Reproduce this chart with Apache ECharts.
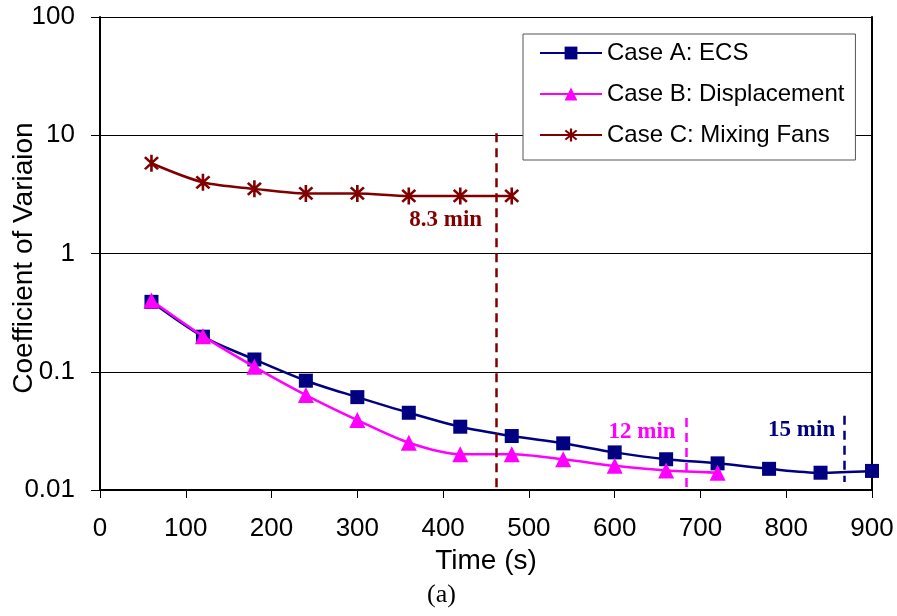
<!DOCTYPE html>
<html>
<head>
<meta charset="utf-8">
<title>Coefficient of Variation</title>
<script src="https://cdn.jsdelivr.net/npm/echarts@6/dist/echarts.min.js"></script>
<style>
  html, body { margin: 0; padding: 0; background: #fff; }
  #chart { width: 897px; height: 616px; }
</style>
</head>
<body>
<div id="chart"></div>
<script>
// time (s) of each sample
var timeA = [60, 120, 180, 240, 300, 360, 420, 480, 540, 600, 660, 720, 780, 840, 900];
var timeB = [60, 120, 180, 240, 300, 360, 420, 480, 540, 600, 660, 720];
var timeC = [60, 120, 180, 240, 300, 360, 420, 480];

// coefficient of variation
var caseA = [0.39, 0.198, 0.127, 0.084, 0.061, 0.045, 0.0343, 0.0286, 0.0248, 0.0208, 0.0182, 0.0168, 0.0151, 0.0140, 0.0145];
var caseB = [0.40, 0.200, 0.110, 0.0635, 0.039, 0.0251, 0.0201, 0.0201, 0.0182, 0.0160, 0.0146, 0.0140];
var caseC = [5.8, 4.0, 3.52, 3.22, 3.22, 3.07, 3.07, 3.07];

var seriesNames = ["Case A: ECS", "Case B: Displacement", "Case C: Mixing Fans"];
var yTicks = [0.01, 0.1, 1, 10, 100];

// dashed markers: time, top, bottom
var cutC = [462, 10.4, 0.0104];
var cutB = [684, 0.0406, 0.01];
var cutA = [868, 0.0425, 0.0117];

function pairs(xs, ys) {
  return xs.map(function (x, i) { return [x, ys[i]]; });
}

// asterisk marker (vertical bar + X)
var starPath = "path://M-0.14,-1L0.14,-1L0.14,1L-0.14,1Z" +
  "M-0.608,-0.806L0.806,0.608L0.608,0.806L-0.806,-0.608Z" +
  "M-0.806,0.608L0.608,-0.806L0.806,-0.608L-0.608,0.806Z";

function cutLine(cut, color) {
  return {
    silent: true,
    symbol: "none",
    label: { show: false },
    lineStyle: { color: color, type: [9, 6], width: 2.5 },
    data: [[{ coord: [cut[0], cut[1]] }, { coord: [cut[0], cut[2]] }]]
  };
}

function note(x, y, text, color) {
  return {
    silent: true,
    symbol: "circle",
    symbolSize: 0,
    label: {
      show: true,
      formatter: text,
      color: color,
      fontFamily: "Liberation Serif",
      fontWeight: "bold",
      fontSize: 23
    },
    data: [{ coord: [x, y] }]
  };
}

var chart = echarts.init(document.getElementById("chart"));

var option = {
  animation: false,
  textStyle: { fontFamily: "Liberation Sans" },
  grid: { left: 100, right: 25, top: 17, bottom: 126, outerBoundsMode: "none", containLabel: false },
  legend: {
    left: 523,
    top: 34,
    orient: "vertical",
    backgroundColor: "#fff",
    borderColor: "#555",
    borderWidth: 1,
    padding: [7, 11, 13, 16],
    itemGap: 17,
    itemWidth: 62,
    itemHeight: 16,
    textStyle: { fontSize: 24, color: "#000", lineHeight: 24 },
    data: seriesNames
  },
  xAxis: {
    type: "value",
    min: 0,
    max: 900,
    interval: 100,
    name: "Time (s)",
    nameLocation: "middle",
    nameGap: 55,
    nameTextStyle: { fontSize: 28, color: "#000" },
    axisLine: { lineStyle: { color: "#000", width: 2 } },
    axisTick: { length: 8, lineStyle: { color: "#000" } },
    axisLabel: { fontSize: 26, color: "#000", margin: 26 },
    splitLine: { show: false }
  },
  yAxis: [
    {
      type: "log",
      logBase: 10,
      min: yTicks[0],
      max: yTicks[yTicks.length - 1],
      axisLine: { lineStyle: { color: "#000", width: 2 } },
      axisTick: { length: 9, lineStyle: { color: "#000" } },
      axisLabel: {
        fontSize: 26,
        color: "#000",
        margin: 25,
        formatter: function (v) { return String(+v.toPrecision(3)); }
      },
      splitLine: { show: true, lineStyle: { color: "#000", width: 1 } }
    },
    {
      // right border of the plot area
      type: "log",
      logBase: 10,
      min: yTicks[0],
      max: yTicks[yTicks.length - 1],
      position: "right",
      axisLine: { show: true, lineStyle: { color: "#000", width: 2 } },
      axisTick: { show: false },
      axisLabel: { show: false },
      splitLine: { show: false }
    }
  ],
  series: [
    {
      name: seriesNames[0],
      type: "line",
      smooth: 0.3,
      data: pairs(timeA, caseA),
      symbol: "rect",
      symbolSize: 14,
      color: "#000080",
      lineStyle: { width: 2.5, color: "#000080" },
      markLine: cutLine(cutA, "#000080"),
      markPoint: note(818, 0.0321, "15 min", "#000080"),
      z: 3
    },
    {
      name: seriesNames[1],
      type: "line",
      smooth: 0.3,
      data: pairs(timeB, caseB),
      symbol: "triangle",
      symbolSize: 16,
      color: "#ff00ff",
      lineStyle: { width: 2.5, color: "#ff00ff" },
      markLine: cutLine(cutB, "#ff00ff"),
      markPoint: note(632, 0.0309, "12 min", "#ff00ff"),
      z: 4
    },
    {
      name: seriesNames[2],
      type: "line",
      smooth: 0.3,
      data: pairs(timeC, caseC),
      symbol: starPath,
      symbolSize: [15, 17],
      color: "#800000",
      lineStyle: { width: 2.5, color: "#800000" },
      markLine: cutLine(cutC, "#800000"),
      markPoint: note(403, 1.91, "8.3 min", "#800000"),
      z: 3
    }
  ],
  graphic: [
    {
      // y axis title, drawn by hand so it can sit over the tick labels
      type: "text",
      x: 24,
      y: 258,
      rotation: Math.PI / 2,
      style: {
        text: "Coefficient of Variaion",
        font: "28px 'Liberation Sans'",
        fill: "#000",
        align: "center",
        verticalAlign: "middle"
      }
    },
    {
      type: "text",
      left: 427,
      top: 582,
      style: { text: "(a)", font: "26px 'Liberation Serif'", fill: "#000" }
    }
  ]
};

chart.setOption(option);
</script>
</body>
</html>
